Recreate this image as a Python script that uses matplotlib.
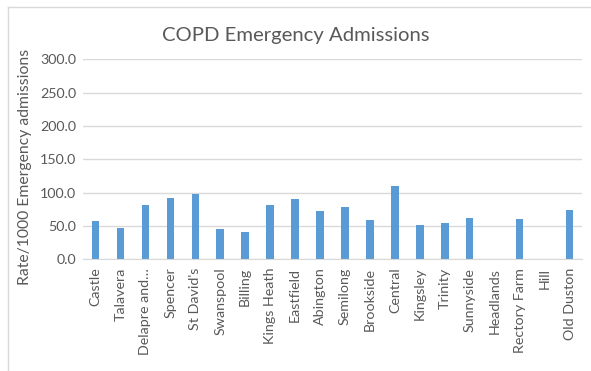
import numpy as np
import matplotlib
matplotlib.use("Agg")
import matplotlib.pyplot as plt
from matplotlib.lines import Line2D

plt.rcParams['font.family'] = ['Lato', 'DejaVu Sans']

# ward names and emergency admission rates per 1000
wards = ["Castle", "Talavera", "Delapre and\u2026", "Spencer", "St David's",
         "Swanspool", "Billing", "Kings Heath", "Eastfield", "Abington",
         "Semilong", "Brookside", "Central", "Kingsley", "Trinity",
         "Sunnyside", "Headlands", "Rectory Farm", "Hill", "Old Duston"]
rates = [57.5, 47.0, 81.0, 91.5, 98.0, 46.0, 40.5, 81.0, 90.0, 73.0,
         78.5, 59.0, 110.0, 52.0, 54.5, 61.5, 0.0, 60.0, 0.0, 74.0]
yticks = [0, 50, 100, 150, 200, 250, 300]

txt = "#595959"
fig = plt.figure(figsize=(5.91, 3.71), dpi=100)
ax = fig.add_axes([0.1404, 0.301, 0.8444, 0.539])

x = np.arange(len(wards))
ax.bar(x, rates, width=0.3, color="#5b9bd5", zorder=3)

ax.set_xlim(-0.5, len(wards) - 0.5)
ax.set_ylim(0, 300)
ax.set_yticks(yticks)
ax.set_yticklabels(["%.1f" % v for v in yticks])
ax.set_xticks(x)
ax.set_xticklabels(wards, rotation=90)
ax.tick_params(axis="both", length=0, colors=txt, labelsize=10.3)
ax.tick_params(axis="x", pad=6)
ax.tick_params(axis="y", pad=5)
ax.grid(axis="y", color="#d9d9d9", linewidth=1, zorder=0)
for s in ["top", "right", "left"]:
    ax.spines[s].set_visible(False)
ax.spines["bottom"].set_color("#d9d9d9")
ax.spines["bottom"].set_zorder(4)

ax.set_ylabel("Rate/1000 Emergency admissions", color=txt, fontsize=11.3)
ax.yaxis.set_label_coords(-0.102, 0.46)
fig.text(0.5, 0.905, "COPD Emergency Admissions", ha="center", va="center",
         color=txt, fontsize=14.6)

# chart frame, left and top edges
fig.add_artist(Line2D([0.0135, 0.0135], [0, 0.981], color="#d9d9d9", lw=1))
fig.add_artist(Line2D([0.0135, 1], [0.981, 0.981], color="#d9d9d9", lw=1))

fig.savefig("out.png", dpi=100)
